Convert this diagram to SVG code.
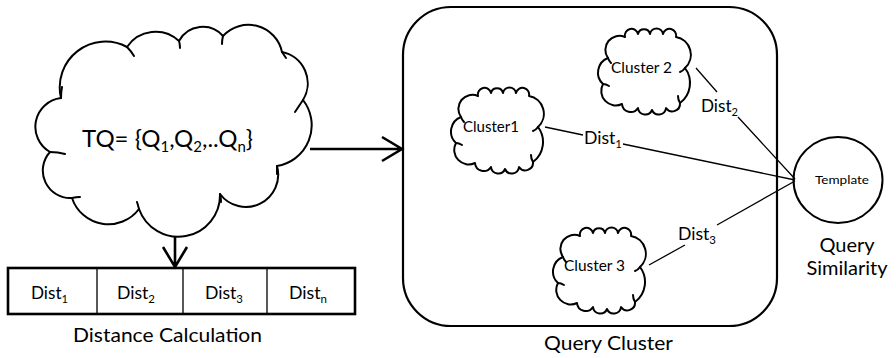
<svg xmlns="http://www.w3.org/2000/svg" xmlns:xlink="http://www.w3.org/1999/xlink" width="896" height="358" viewBox="0 0 896 358">
  <style>
    text { font-family: Lato, "Liberation Sans", sans-serif; fill: #000; }
    .outline { fill: #fff; stroke: #000; stroke-width: 2; stroke-linejoin: round; }
    .tick { fill: none; stroke: #000; stroke-width: 2; stroke-linecap: round; }
    .thin { fill: none; stroke: #000; stroke-width: 1.3; }
    .arrow { fill: none; stroke: #000; stroke-width: 2.6; stroke-linecap: butt; }
    .lbl { font-size: 17px; }
    .cl { font-size: 15px; }
    .cap { font-size: 20px; }
  </style>
  <defs>
    <!-- small cloud outline, local box 0..92 x 0..86 -->
    <g id="smallCloud">
      <path class="outline" d="M10,30 A14,14 0 0 1 27,9 A6.6,6.6 0 0 1 40,6 A6.2,6.2 0 0 1 52,6 A6.6,6.6 0 0 1 65,6 A6.6,6.6 0 0 1 78,9 A18,18 0 0 1 87,40 A25,25 0 0 1 82,75 A7.7,7.7 0 0 1 68,80 A7.3,7.3 0 0 1 54,82 A7.3,7.3 0 0 1 40,80 A8.7,8.7 0 0 1 24,76 A14.5,14.5 0 0 1 5,56 A15.6,15.6 0 0 1 10,30 Z"/>
      <path class="tick" d="M87,40 Q85,43 82,44 M5,56 Q8,56 11,58 M10,30 Q11,33 13,35 M82,75 Q80,72 80,68"/>
    </g>
  </defs>

  <!-- query set cloud -->
  <g id="node-tq">
    <path class="outline" d="M50,152 A29,29 0 0 1 61,98 A45.7,45.7 0 0 1 127,47 A34.5,34.5 0 0 1 179,41 A27,27 0 0 1 223,36 A34.4,34.4 0 0 1 282,52 A31.9,31.9 0 0 1 303,100 A41.2,41.2 0 0 1 277,166 A32.3,32.3 0 0 1 220,194 A41.7,41.7 0 0 1 139,209 A38.3,38.3 0 0 1 72,198 A27.5,27.5 0 0 1 50,152 Z"/>
    <path class="tick" d="M50,152 Q58,152 65,154 M61,98 Q61,92 62,87 M127,47 Q131,51 134,56 M179,41 Q180,44 180,48 M223,36 Q222,40 222,44 M282,52 Q284,55 286,58 M303,100 Q299,106 295,112 M277,166 Q277,170 277,174 M220,194 Q221,198 221,202 M139,209 Q138,205 137,202 M72,198 Q76,197 80,197"/>
    <text x="82" y="147" font-size="24" textLength="171" lengthAdjust="spacingAndGlyphs">TQ= {Q<tspan font-size="15" dy="5">1</tspan><tspan dy="-5">,Q</tspan><tspan font-size="15" dy="5">2</tspan><tspan dy="-5">,..Q</tspan><tspan font-size="15" dy="5">n</tspan><tspan dy="-5">}</tspan></text>
  </g>

  <!-- distance table -->
  <g id="node-dist-table">
    <rect x="8" y="268" width="347" height="46" fill="#fff" stroke="#000" stroke-width="2.6"/>
    <path class="thin" d="M97,268 V314 M183,268 V314 M267,268 V314"/>
    <text class="lbl" x="31" y="299" textLength="37" lengthAdjust="spacingAndGlyphs">Dist<tspan font-size="11" dy="4">1</tspan></text>
    <text class="lbl" x="117" y="299" textLength="38" lengthAdjust="spacingAndGlyphs">Dist<tspan font-size="11" dy="4">2</tspan></text>
    <text class="lbl" x="205" y="299" textLength="38" lengthAdjust="spacingAndGlyphs">Dist<tspan font-size="11" dy="4">3</tspan></text>
    <text class="lbl" x="289" y="299" textLength="38" lengthAdjust="spacingAndGlyphs">Dist<tspan font-size="11" dy="4">n</tspan></text>
    <text class="cap" x="73" y="342" textLength="189" lengthAdjust="spacingAndGlyphs">Distance Calculation</text>
  </g>

  <!-- query cluster container -->
  <g id="node-query-cluster">
    <rect x="403" y="7" width="374" height="319" rx="48" ry="48" fill="#fff" stroke="#000" stroke-width="2.2"/>
    <text class="cap" x="544" y="350" textLength="129" lengthAdjust="spacingAndGlyphs">Query Cluster</text>
  </g>

  <g id="node-cluster1">
    <use xlink:href="#smallCloud" href="#smallCloud" transform="translate(451,87)"/>
    <text class="cl" x="463" y="132" textLength="56" lengthAdjust="spacingAndGlyphs">Cluster1</text>
  </g>
  <g id="node-cluster2">
    <use xlink:href="#smallCloud" href="#smallCloud" transform="translate(598,28)"/>
    <text class="cl" x="611" y="73" textLength="61" lengthAdjust="spacingAndGlyphs">Cluster 2</text>
  </g>
  <g id="node-cluster3">
    <use xlink:href="#smallCloud" href="#smallCloud" transform="translate(553,227)"/>
    <text class="cl" x="564" y="271" textLength="61" lengthAdjust="spacingAndGlyphs">Cluster 3</text>
  </g>

  <!-- template node -->
  <g id="node-template">
    <ellipse cx="838" cy="180" rx="44.5" ry="43" fill="#fff" stroke="#000" stroke-width="2"/>
    <text x="815" y="184" font-size="12" textLength="54" lengthAdjust="spacingAndGlyphs">Template</text>
    <text class="cap" x="847" y="252" text-anchor="middle" font-size="21">Query</text>
    <text class="cap" x="847" y="275" text-anchor="middle" font-size="21">Similarity</text>
  </g>

  <!-- connectors -->
  <g id="connectors">
    <path class="arrow" d="M310,149 H401 M382,137 L402,149 L382,161"/>
    <path class="arrow" d="M175,237 V266 M163,247 L175,267 L187,247"/>
    <path class="thin" d="M545,127 L583,135 M623,144 L795,180"/>
    <path class="thin" d="M696,68 L717,92 M738,117 L795,179"/>
    <path class="thin" d="M649,265 L685,245 M717,225 L795,181"/>
    <text class="lbl" x="584" y="144" textLength="38" lengthAdjust="spacingAndGlyphs">Dist<tspan font-size="11" dy="4">1</tspan></text>
    <text class="lbl" x="701" y="112" textLength="37" lengthAdjust="spacingAndGlyphs">Dist<tspan font-size="11" dy="4">2</tspan></text>
    <text class="lbl" x="678" y="240" textLength="38" lengthAdjust="spacingAndGlyphs">Dist<tspan font-size="11" dy="4">3</tspan></text>
  </g>
</svg>
